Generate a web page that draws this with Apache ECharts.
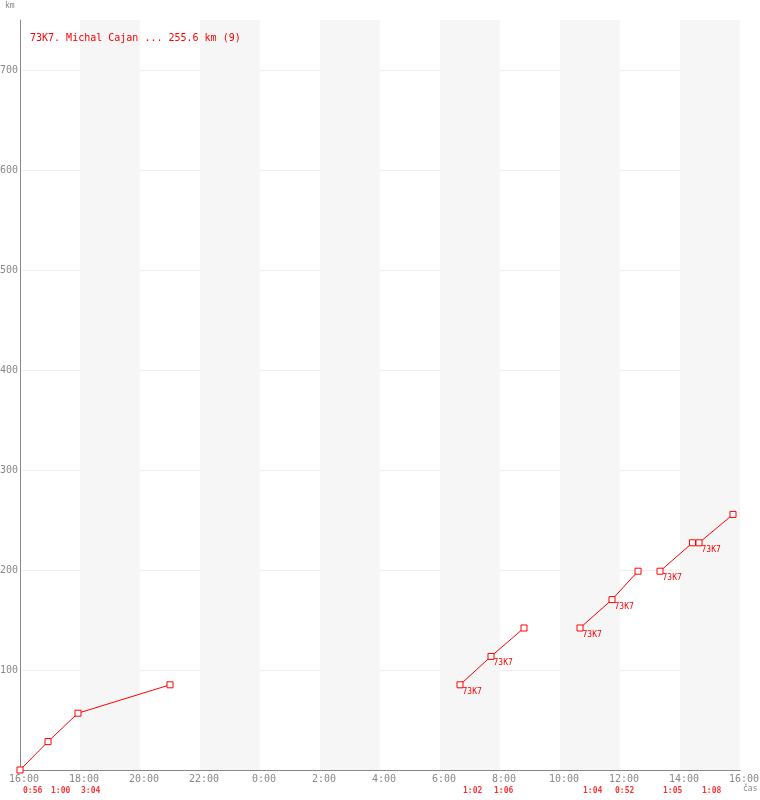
<!DOCTYPE html>
<html>
<head>
<meta charset="utf-8">
<script src="https://cdn.jsdelivr.net/npm/echarts@6/dist/echarts.min.js"></script>
<style>html,body{margin:0;padding:0;background:#fff;}#c{width:760px;height:800px;}</style>
</head>
<body>
<div id="c"></div>
<script>
// Data
const titleText = '73K7. Michal Cajan ... 255.6 km (9)';
const times = ['16:00','16:56','17:56','21:00','6:40','7:42','8:48','10:40','11:44','12:36','13:20','14:25','14:38','15:46'];
const km = [0, 28.4, 56.8, 85.2, 85.2, 113.6, 142, 142, 170.4, 198.8, 198.8, 227.2, 227.2, 255.6];
const segment = [0, 0, 0, 0, 1, 1, 1, 2, 2, 2, 3, 3, 4, 4];
const pointLabels = ['', '', '', '', '73K7', '73K7', '', '73K7', '73K7', '', '73K7', '', '73K7', ''];
const legStartIdx = [0, 1, 2, 4, 5, 7, 8, 10, 12];
const legDurations = ['0:56', '1:00', '3:04', '1:02', '1:06', '1:04', '0:52', '1:05', '1:08'];
const startHour = 16;

function toX(t) {
  const [h, m] = t.split(':').map(Number);
  let v = h + m / 60 - startHour;
  if (v < 0) v += 24;
  return v;
}

const mono = 'DejaVu Sans Mono';
const lineData = [];
for (let i = 0; i < times.length; i++) {
  if (i > 0 && segment[i] !== segment[i - 1]) lineData.push('-');
  lineData.push({
    value: [toX(times[i]), km[i]],
    label: { show: pointLabels[i] !== '', formatter: pointLabels[i] }
  });
}
const durData = legStartIdx.map((idx, k) => ({
  value: [toX(times[idx]), 0],
  label: { formatter: legDurations[k] }
}));

const chart = echarts.init(document.getElementById('c'), null, { renderer: 'canvas' });
chart.setOption({
  animation: false,
  backgroundColor: '#fff',
  grid: { left: 20, right: 20, top: 20, bottom: 30, containLabel: false, outerBoundsMode: 'none' },
  title: {
    text: titleText, left: 30, top: 33, padding: 0,
    textStyle: { color: '#ff0000', fontFamily: mono, fontSize: 10, fontWeight: 'normal' }
  },
  graphic: [
    { type: 'text', left: 5, top: 2, style: { text: 'km', fill: '#888', font: '8px "DejaVu Sans Mono"' } },
    { type: 'text', left: 743, top: 785, style: { text: 'čas', fill: '#888', font: '8px "DejaVu Sans Mono"' } }
  ],
  xAxis: {
    type: 'value', min: 0, max: 24, interval: 2,
    axisLine: { show: true, lineStyle: { color: '#888', width: 1 } },
    axisTick: { show: false },
    axisLabel: {
      color: '#888', fontFamily: mono, fontSize: 10, margin: 4, padding: [0, 0, 0, 8],
      formatter: v => ((startHour + v) % 24) + ':00'
    },
    splitLine: { show: false },
    splitArea: { show: true, areaStyle: { color: ['rgba(255,255,255,0)', '#f6f6f6'] } }
  },
  yAxis: {
    type: 'value', min: 0, max: 750, interval: 100,
    axisLine: { show: true, lineStyle: { color: '#888', width: 1 } },
    axisTick: { show: false },
    axisLabel: {
      color: '#888', fontFamily: mono, fontSize: 10, margin: 2,
      showMinLabel: false, showMaxLabel: false
    },
    splitLine: { show: true, showMinLine: false, showMaxLine: false, lineStyle: { color: '#eeeeee', width: 1 } }
  },
  series: [
    {
      type: 'line',
      data: lineData,
      connectNulls: false,
      symbol: 'rect', symbolSize: 6,
      lineStyle: { color: '#ff0000', width: 1 },
      itemStyle: { color: '#fff', borderColor: '#ff0000', borderWidth: 1 },
      label: {
        position: 'right', distance: 0, offset: [-1, 7],
        color: '#ff0000', fontFamily: mono, fontSize: 8
      },
      z: 3
    },
    {
      type: 'scatter',
      data: durData,
      symbolSize: 0,
      silent: true,
      clip: false,
      label: {
        show: true, position: 'right', distance: 3, offset: [0, 21],
        color: '#ff0000', fontFamily: mono, fontSize: 8, fontWeight: 'bold'
      }
    }
  ]
});
</script>
</body>
</html>
